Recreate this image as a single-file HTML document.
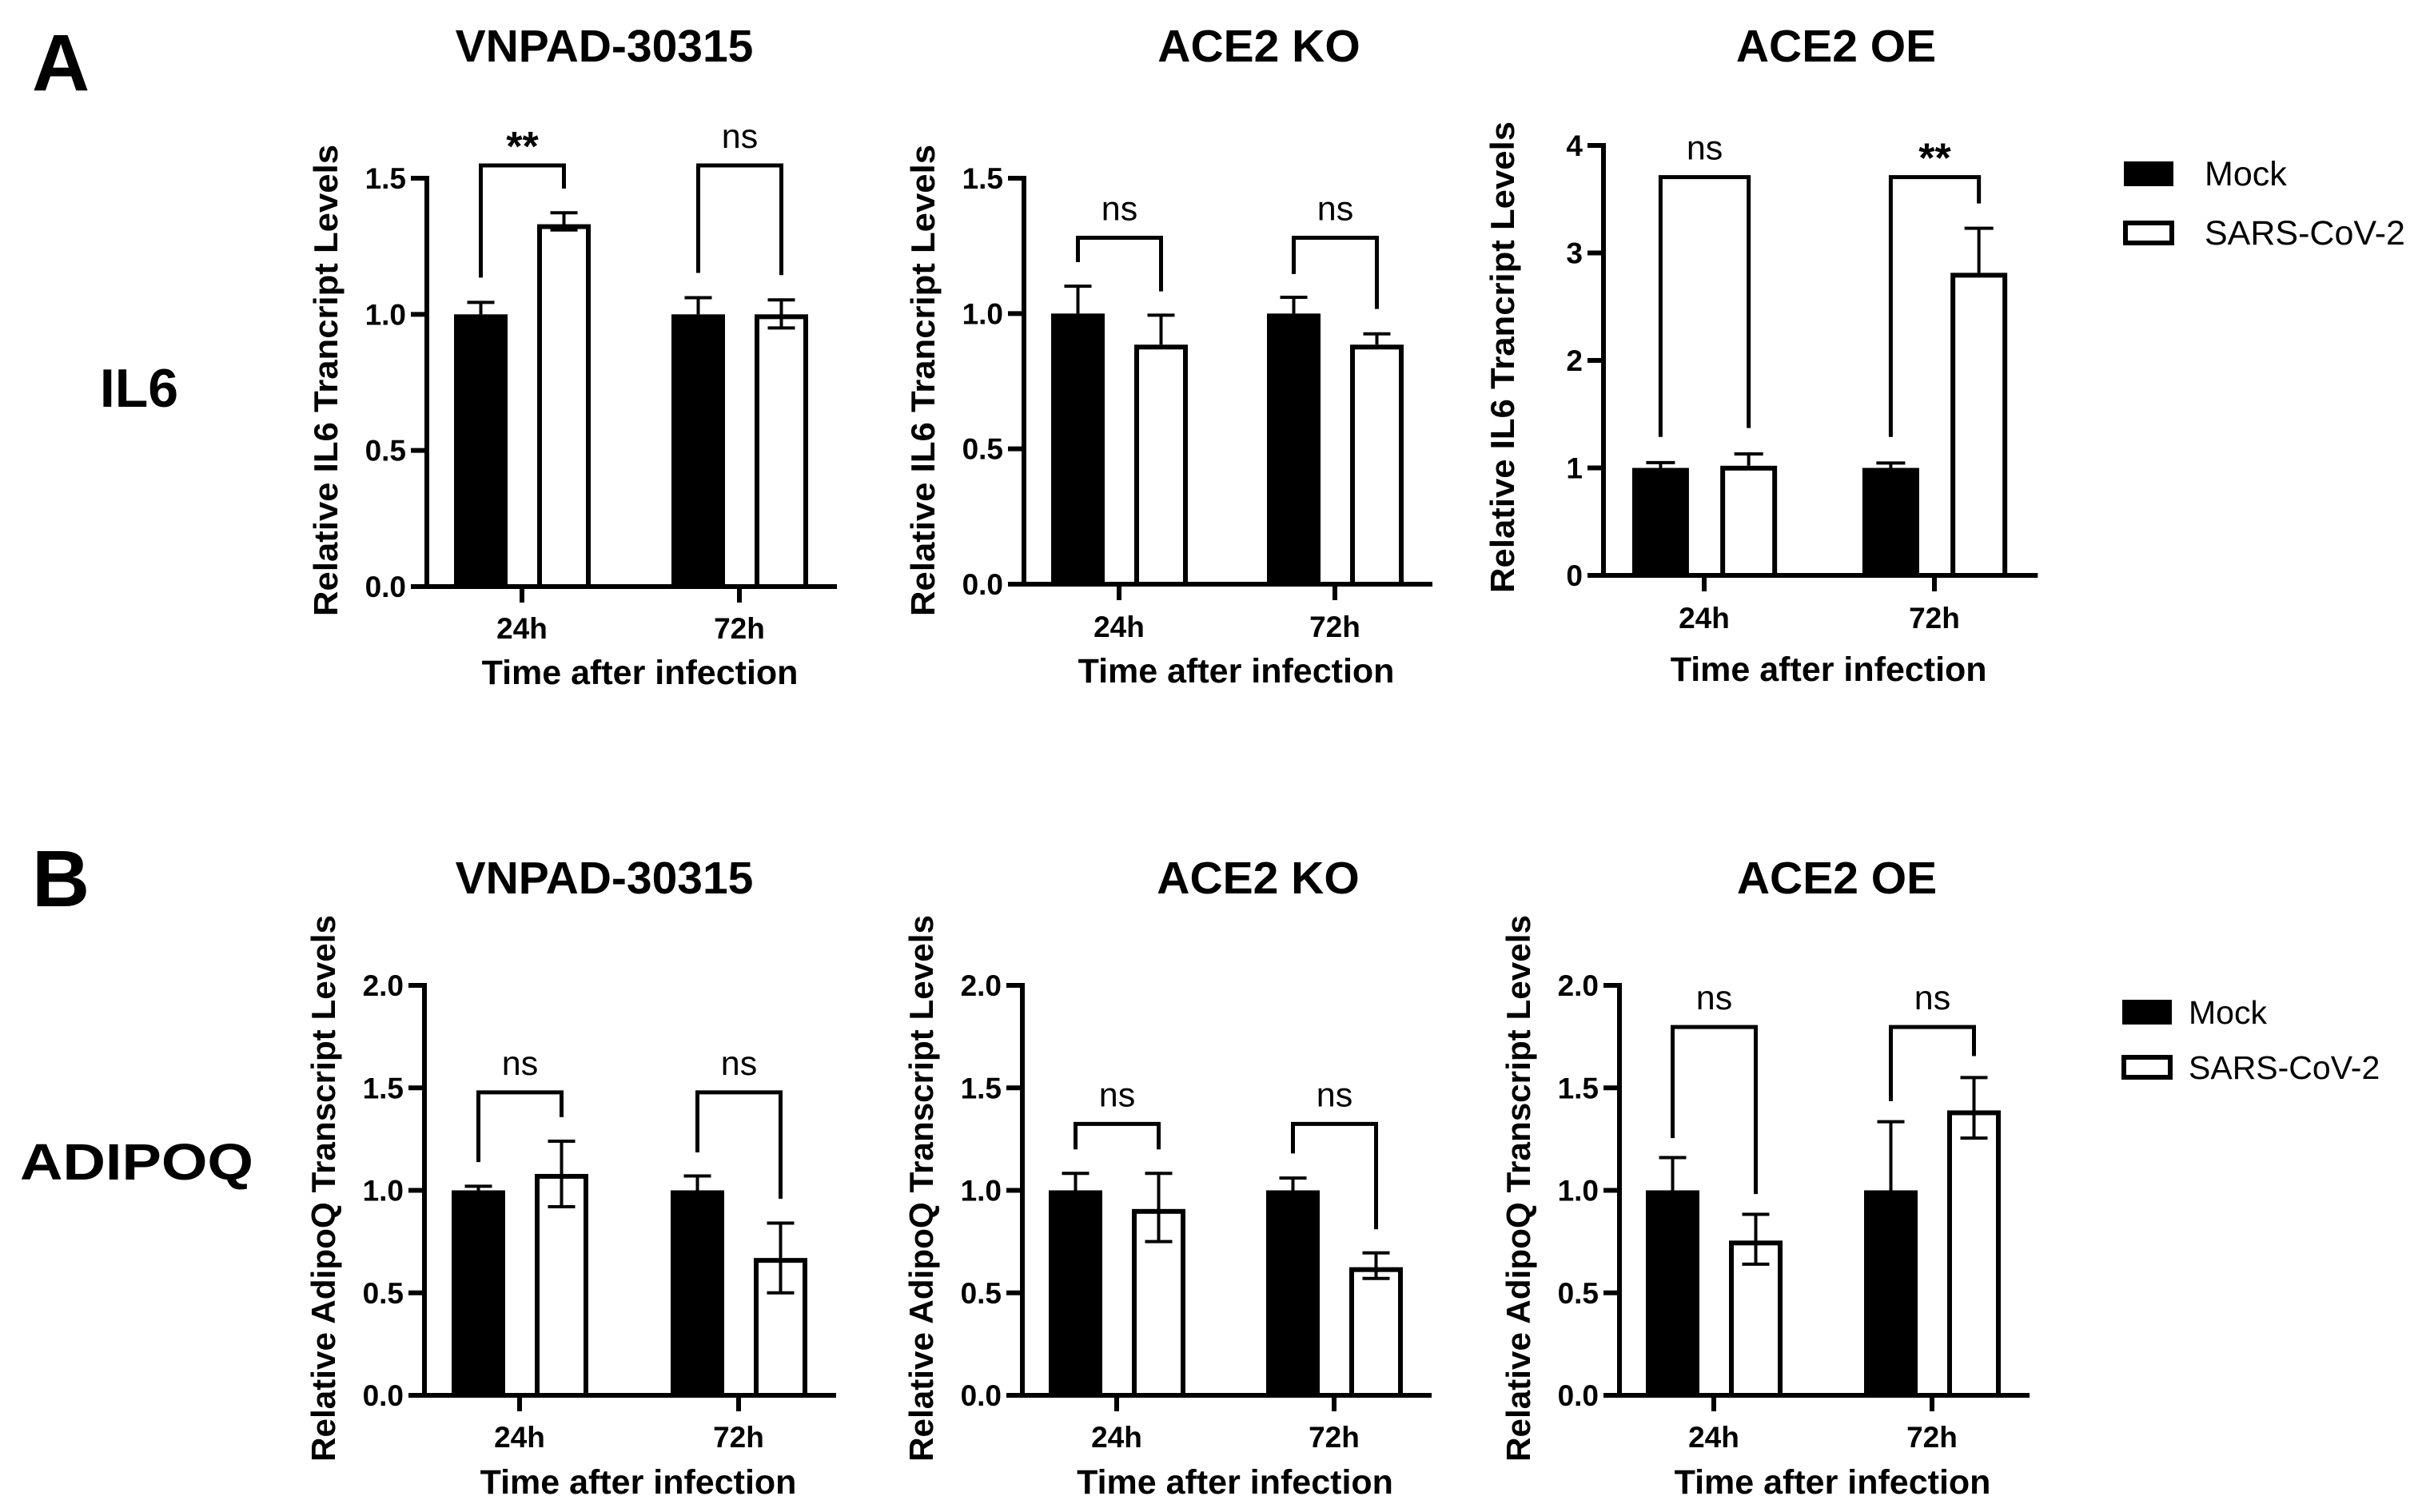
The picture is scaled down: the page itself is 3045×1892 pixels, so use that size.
<!DOCTYPE html>
<html><head><meta charset="utf-8"><style>
html,body{margin:0;padding:0;background:#fff;}
svg{display:block;font-family:"Liberation Sans",Arial,sans-serif;}
</style></head><body>
<svg id="fig" width="3045" height="1892" viewBox="0 0 3045 1892" xmlns="http://www.w3.org/2000/svg">
<rect width="3045" height="1892" fill="#fff"/>
<text x="40" y="113" font-size="100" font-weight="bold">A</text>
<text x="40" y="1134" font-size="100" font-weight="bold">B</text>
<text x="174" y="509" font-size="68" font-weight="bold" text-anchor="middle">IL6</text>
<text x="171" y="1476" font-size="64" font-weight="bold" text-anchor="middle" textLength="292" lengthAdjust="spacingAndGlyphs">ADIPOQ</text>
<g>
<rect x="2659" y="204" width="58" height="27" fill="#000" stroke="#000" stroke-width="4"/>
<text x="2758" y="232" font-size="43">Mock</text>
<rect x="2659" y="279" width="58" height="25" fill="#fff" stroke="#000" stroke-width="6"/>
<text x="2758" y="306" font-size="43">SARS-CoV-2</text>
</g>
<g>
<rect x="2657" y="1253" width="58" height="27" fill="#000" stroke="#000" stroke-width="4"/>
<text x="2738" y="1281" font-size="41">Mock</text>
<rect x="2657" y="1323" width="58" height="25" fill="#fff" stroke="#000" stroke-width="6"/>
<text x="2738" y="1350" font-size="41">SARS-CoV-2</text>
</g>
</svg>
<script>
const categories = ['24h','72h'];
// IL6
const il6VnMock = [1.0, 1.0];
const il6VnMockHi = [1.044, 1.061];
const il6VnSars = [1.331, 1.0];
const il6VnSarsHi = [1.373, 1.053];
const il6VnSarsLo = [1.31, 0.95];
const il6KoMock = [1.0, 1.0];
const il6KoMockHi = [1.101, 1.06];
const il6KoSars = [0.885, 0.885];
const il6KoSarsHi = [0.994, 0.925];
const il6KoSarsLo = [null, null];
const il6OeMock = [1.0, 1.0];
const il6OeMockHi = [1.049, 1.046];
const il6OeSars = [1.02, 2.815];
const il6OeSarsHi = [1.13, 3.23];
const il6OeSarsLo = [null, null];
// ADIPOQ
const adqVnMock = [1.0, 1.0];
const adqVnMockHi = [1.02, 1.07];
const adqVnSars = [1.08, 0.67];
const adqVnSarsHi = [1.24, 0.84];
const adqVnSarsLo = [0.92, 0.50];
const adqKoMock = [1.0, 1.0];
const adqKoMockHi = [1.083, 1.06];
const adqKoSars = [0.909, 0.625];
const adqKoSarsHi = [1.083, 0.695];
const adqKoSarsLo = [0.75, 0.57];
const adqOeMock = [1.0, 1.0];
const adqOeMockHi = [1.16, 1.335];
const adqOeSars = [0.755, 1.39];
const adqOeSarsHi = [0.883, 1.55];
const adqOeSarsLo = [0.64, 1.255];
// significance brackets: top, left leg end, right leg end, label
const il6VnBrTop = [1.547, 1.547];
const il6VnBrLeft = [1.135, 1.152];
const il6VnBrRight = [1.462, 1.144];
const il6VnSig = ['**', 'ns'];
const il6KoBrTop = [1.28, 1.28];
const il6KoBrLeft = [1.19, 1.146];
const il6KoBrRight = [1.082, 1.017];
const il6KoSig = ['ns', 'ns'];
const il6OeBrTop = [3.705, 3.705];
const il6OeBrLeft = [1.288, 1.288];
const il6OeBrRight = [1.371, 3.46];
const il6OeSig = ['ns', '**'];
const adqVnBrTop = [1.478, 1.478];
const adqVnBrLeft = [1.138, 1.185];
const adqVnBrRight = [1.357, 0.959];
const adqVnSig = ['ns', 'ns'];
const adqKoBrTop = [1.324, 1.324];
const adqKoBrLeft = [1.2, 1.18];
const adqKoBrRight = [1.2, 0.81];
const adqKoSig = ['ns', 'ns'];
const adqOeBrTop = [1.797, 1.797];
const adqOeBrLeft = [1.255, 1.435];
const adqOeBrRight = [0.982, 1.655];
const adqOeSig = ['ns', 'ns'];
const ticksIl6 = [0, 0.5, 1.0, 1.5];
const ticksIl6Labels = ['0.0', '0.5', '1.0', '1.5'];
const ticksIl6Oe = [0, 1, 2, 3, 4];
const ticksIl6OeLabels = ['0', '1', '2', '3', '4'];
const ticksAdq = [0, 0.5, 1.0, 1.5, 2.0];
const ticksAdqLabels = ['0.0', '0.5', '1.0', '1.5', '2.0'];

const NS = 'http://www.w3.org/2000/svg';
const svg = document.getElementById('fig');
function mk(tag, attrs, parent) {
  const e = document.createElementNS(NS, tag);
  for (const k in attrs) e.setAttribute(k, attrs[k]);
  parent.appendChild(e);
  return e;
}

const panels = [
  {id:'il6-vnpad', title:'VNPAD-30315', ytitle:'Relative IL6 Trancript Levels', ax:534, y0:734, yTop:223, yMax:1.5, t0:653, dt:272, s:1, titleX:756, titleY:77, tickLY:799, xtY:856, ytY:476,
   ticks:ticksIl6, tl:ticksIl6Labels, mock:il6VnMock, mockHi:il6VnMockHi, sars:il6VnSars, sarsHi:il6VnSarsHi, sarsLo:il6VnSarsLo, brTop:il6VnBrTop, brL:il6VnBrLeft, brR:il6VnBrRight, sig:il6VnSig},
  {id:'il6-ko', title:'ACE2 KO', ytitle:'Relative IL6 Trancript Levels', ax:1281, y0:731, yTop:223, yMax:1.5, t0:1400, dt:270, s:1, titleX:1575, titleY:77, tickLY:797, xtY:854, ytY:476,
   ticks:ticksIl6, tl:ticksIl6Labels, mock:il6KoMock, mockHi:il6KoMockHi, sars:il6KoSars, sarsHi:il6KoSarsHi, sarsLo:il6KoSarsLo, brTop:il6KoBrTop, brL:il6KoBrLeft, brR:il6KoBrRight, sig:il6KoSig},
  {id:'il6-oe', title:'ACE2 OE', ytitle:'Relative IL6 Trancript Levels', ax:2006, y0:720, yTop:182, yMax:4, t0:2132, dt:288, s:1.06, titleX:2297, titleY:77, tickLY:786, xtY:852, ytY:447,
   ticks:ticksIl6Oe, tl:ticksIl6OeLabels, mock:il6OeMock, mockHi:il6OeMockHi, sars:il6OeSars, sarsHi:il6OeSarsHi, sarsLo:il6OeSarsLo, brTop:il6OeBrTop, brL:il6OeBrLeft, brR:il6OeBrRight, sig:il6OeSig},
  {id:'adq-vnpad', title:'VNPAD-30315', ytitle:'Relative AdipoQ Transcript Levels', ax:531, y0:1746, yTop:1233, yMax:2, t0:650, dt:274, s:1, titleX:756, titleY:1118, tickLY:1811, xtY:1869, ytY:1487,
   ticks:ticksAdq, tl:ticksAdqLabels, mock:adqVnMock, mockHi:adqVnMockHi, sars:adqVnSars, sarsHi:adqVnSarsHi, sarsLo:adqVnSarsLo, brTop:adqVnBrTop, brL:adqVnBrLeft, brR:adqVnBrRight, sig:adqVnSig},
  {id:'adq-ko', title:'ACE2 KO', ytitle:'Relative AdipoQ Transcript Levels', ax:1279, y0:1746, yTop:1233, yMax:2, t0:1397, dt:272, s:1, titleX:1574, titleY:1118, tickLY:1811, xtY:1869, ytY:1487,
   ticks:ticksAdq, tl:ticksAdqLabels, mock:adqKoMock, mockHi:adqKoMockHi, sars:adqKoSars, sarsHi:adqKoSarsHi, sarsLo:adqKoSarsLo, brTop:adqKoBrTop, brL:adqKoBrLeft, brR:adqKoBrRight, sig:adqKoSig},
  {id:'adq-oe', title:'ACE2 OE', ytitle:'Relative AdipoQ Transcript Levels', ax:2026, y0:1746, yTop:1233, yMax:2, t0:2144, dt:273, s:1, titleX:2298, titleY:1118, tickLY:1811, xtY:1869, ytY:1487,
   ticks:ticksAdq, tl:ticksAdqLabels, mock:adqOeMock, mockHi:adqOeMockHi, sars:adqOeSars, sarsHi:adqOeSarsHi, sarsLo:adqOeSarsLo, brTop:adqOeBrTop, brL:adqOeBrLeft, brR:adqOeBrRight, sig:adqOeSig}
];

panels.forEach(p => {
  const g = mk('g', {}, svg);
  
  
  const yS = v => p.y0 - (v / p.yMax) * (p.y0 - p.yTop);
  const xS = i => p.t0 + i * p.dt;
  const xEnd = xS(categories.length - 1) + 122 * p.s;

  const title = mk('text', {x:p.titleX, y:p.titleY, 'font-size':57, 'font-weight':'bold', 'text-anchor':'middle'}, g);
  title.textContent = p.title;
  
  

  categories.forEach((c, i) => {
    const cx = xS(i);
    const w = 67 * p.s;
    const mL = cx - 85 * p.s, sL = cx + 19 * p.s;
    const mb = mk('rect', {x:mL, y:yS(p.mock[i]), width:w, height:p.y0 - yS(p.mock[i]), fill:'#000'}, g);
    
    
    const sb = mk('rect', {x:sL + 3, y:yS(p.sars[i]) + 3, width:w - 6, height:Math.max(0, p.y0 - yS(p.sars[i]) - 3), fill:'#fff', stroke:'#000', 'stroke-width':6}, g);
    
    
    const mcx = mL + w / 2, scx = sL + w / 2, cap = 17 * p.s;
    const em = mk('path', {d:`M${mcx},${yS(p.mock[i])} V${yS(p.mockHi[i])} M${mcx-cap},${yS(p.mockHi[i])} H${mcx+cap}`, stroke:'#000', 'stroke-width':4, fill:'none'}, g);
    
    
    let d = `M${scx},${yS(p.sarsLo[i] != null ? p.sarsLo[i] : p.sars[i])} V${yS(p.sarsHi[i])} M${scx-cap},${yS(p.sarsHi[i])} H${scx+cap}`;
    if (p.sarsLo[i] != null) d += ` M${scx-cap},${yS(p.sarsLo[i])} H${scx+cap}`;
    const es = mk('path', {d:d, stroke:'#000', 'stroke-width':4, fill:'none'}, g);
    
    
    const br = mk('path', {d:`M${mcx},${yS(p.brL[i])} V${yS(p.brTop[i])} H${scx} V${yS(p.brR[i])}`, stroke:'#000', 'stroke-width':5, fill:'none'}, g);
    
    
    const isStar = p.sig[i] === '**';
    const st = mk('text', {x:(mcx + scx) / 2, y:yS(p.brTop[i]) - (isStar ? 6 : 22), 'font-size':isStar ? 52 : 43, 'font-weight':isStar ? 'bold' : 'normal', 'text-anchor':'middle'}, g);
    st.textContent = p.sig[i];
    
    
    const xt = mk('line', {x1:cx, x2:cx, y1:p.y0, y2:p.y0 + 20, stroke:'#000', 'stroke-width':6}, g);
    
    
    const xl = mk('text', {x:cx, y:p.tickLY, 'font-size':37, 'font-weight':'bold', 'text-anchor':'middle'}, g);
    xl.textContent = c;
    
    
  });

  const ya = mk('line', {x1:p.ax, x2:p.ax, y1:p.yTop - 3, y2:p.y0 + 3, stroke:'#000', 'stroke-width':6}, g);
  
  
  const xa = mk('line', {x1:p.ax - 20, x2:xEnd, y1:p.y0, y2:p.y0, stroke:'#000', 'stroke-width':6}, g);
  
  
  p.ticks.forEach((v, k) => {
    const tk = mk('line', {x1:p.ax - 20, x2:p.ax, y1:yS(v), y2:yS(v), stroke:'#000', 'stroke-width':6}, g);
    
    
    const tl = mk('text', {x:p.ax - 26, y:yS(v) + 13, 'font-size':37, 'font-weight':'bold', 'text-anchor':'end'}, g);
    tl.textContent = p.tl[k];
    
    
  });
  const xtt = mk('text', {x:(p.ax + xEnd) / 2 + 10, y:p.xtY, 'font-size':43, 'font-weight':'bold', 'text-anchor':'middle'}, g);
  xtt.textContent = 'Time after infection';
  
  
  const len = p.ytitle.indexOf('AdipoQ') >= 0 ? 684 : 590;
  const ytx = p.ax - 112;
  const yt = mk('text', {x:ytx, y:p.ytY, 'font-size':42, 'font-weight':'bold', 'text-anchor':'middle', transform:`rotate(-90 ${ytx} ${p.ytY})`, textLength:len, lengthAdjust:'spacingAndGlyphs'}, g);
  yt.textContent = p.ytitle;
  
  
});
</script>
</body></html>
